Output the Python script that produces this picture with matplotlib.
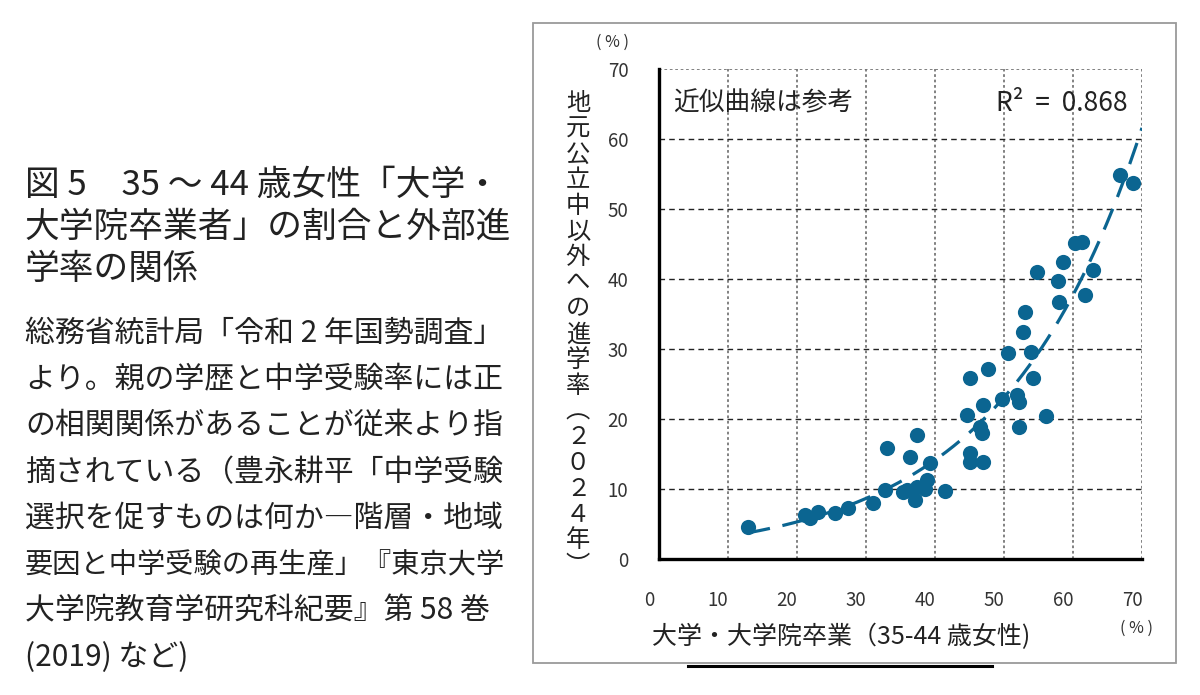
import numpy as np
import matplotlib
matplotlib.use("Agg")
import matplotlib.pyplot as plt
from matplotlib.patches import Rectangle
from matplotlib.lines import Line2D
from matplotlib.transforms import ScaledTranslation

plt.rcParams['font.family'] = ['Noto Sans CJK JP', 'DejaVu Sans']

# 35-44歳女性の大学・大学院卒業割合 (%)
univ_rate = [12.9, 21.2, 21.9, 23.0, 25.5, 27.4, 31.0, 32.8, 33.0, 36.4,
             37.4, 39.3, 38.8, 35.9, 37.4, 37.1, 35.4, 38.6, 41.4, 45.1,
             45.1, 47.0, 44.6, 46.5, 46.8, 47.0, 45.1, 47.7, 49.7, 51.9,
             52.2, 52.2, 56.1, 54.2, 50.6, 53.9, 52.8, 53.0, 54.8, 58.5,
             57.8, 58.0, 60.3, 61.3, 62.9, 61.7, 66.8, 68.7]
# 地元公立中以外への進学率 2024 (%)
exam_rate = [4.6, 6.3, 5.9, 6.7, 6.6, 7.3, 8.0, 9.9, 15.9, 14.6,
             17.7, 13.7, 11.3, 9.9, 10.3, 8.4, 9.6, 10.0, 9.7, 15.1,
             13.9, 13.9, 20.6, 18.9, 18.0, 22.0, 25.9, 27.1, 22.9, 23.4,
             22.4, 18.9, 20.4, 25.9, 29.4, 29.6, 32.4, 35.3, 41.0, 42.4,
             39.7, 36.7, 45.1, 45.3, 41.3, 37.7, 54.9, 53.7]

ticks = [0, 10, 20, 30, 40, 50, 60, 70]

title_lines = ["図 5　35 ～ 44 歳女性「大学・",
               "大学院卒業者」の割合と外部進",
               "学率の関係"]
body_lines = ["総務省統計局「令和 2 年国勢調査」",
              "より。親の学歴と中学受験率には正",
              "の相関関係があることが従来より指",
              "摘されている（豊永耕平「中学受験",
              "選択を促すものは何か―階層・地域",
              "要因と中学受験の再生産」『東京大学",
              "大学院教育学研究科紀要』第 58 巻",
              "(2019) など)"]
body_sizes = [21.5, 21.5, 21.5, 21.5, 21.5, 20.3, 21.5, 21.5]
ylabel_chars = list("地元公立中以外への進学率") + ["︵", "２", "０", "２", "４", "年", "︶"]

W, H = 1200, 695
fig = plt.figure(figsize=(W / 100, H / 100), dpi=100)
fig.patch.set_facecolor("white")

# left text block
for i, s in enumerate(title_lines):
    fig.text(25 / W, 1 - (185 + 42 * i) / H, s, fontsize=25, color="#222222", va="center", ha="left")
for i, s in enumerate(body_lines):
    fig.text(25 / W, 1 - (333 + 46.4 * i) / H, s, fontsize=body_sizes[i], color="#222222",
             va="center", ha="left")

# chart frame
fig.patches.append(Rectangle((533 / W, 1 - 663 / H), (1176 - 533) / W, (663 - 23) / H,
                             transform=fig.transFigure, fill=False, edgecolor="#9a9a9a", lw=1.3))
fig.lines.append(Line2D([688 / W, 992 / W], [1 - 666 / H, 1 - 666 / H],
                        transform=fig.transFigure, color="black", lw=2.2))

ax = fig.add_axes([659 / W, 1 - 559 / H, (1142 - 659) / W, (559 - 69) / H])
x = np.array(univ_rate)
y = np.array(exam_rate)

ax.set_xlim(0, 70)
ax.set_ylim(0, 70)
ax.set_xticks(ticks)
ax.set_yticks(ticks)
ax.tick_params(length=0, pad=22, labelsize=13.5, labelcolor="#333333")
for lab in ax.get_xticklabels():
    lab.set_transform(lab.get_transform() + ScaledTranslation(-0.1, 0, fig.dpi_scale_trans))

for t in ticks[1:]:
    ax.axvline(t, color="#777777", lw=1.3, ls=(0, (1.5, 1.5)), zorder=1)
for t in ticks[1:-1]:
    ax.axhline(t, color="#222222", lw=1.0, ls=(0, (4, 3)), zorder=1)
ax.axhline(70, color="#777777", lw=1.3, ls=(0, (1.5, 1.5)), zorder=1)

for side in ["top", "right"]:
    ax.spines[side].set_visible(False)
for side in ["left", "bottom"]:
    ax.spines[side].set_linewidth(2.4)
    ax.spines[side].set_color("black")

ax.scatter(x, y, s=120, color="#0b6591", zorder=3, linewidths=0)

# exponential trend line (Excel-style), fitted from the points
b, a = np.polyfit(x, np.log(y), 1)
xs = np.linspace(x.min(), 70, 200)
ax.plot(xs, np.exp(a + b * xs), color="#0b6591", lw=2.3, ls=(0, (7, 4)), zorder=4)

ax.text(0.03, 0.93, "近似曲線は参考", transform=ax.transAxes, fontsize=18.5,
        color="#222222", va="center", ha="left")
ax.text(0.97, 0.93, "R²  =  0.868", transform=ax.transAxes, fontsize=19,
        color="#222222", va="center", ha="right")

# axis labels
fig.text(612 / W, 1 - 42 / H, "( % )", fontsize=11.5, color="#333333", ha="center", va="center")
fig.text(1137 / W, 1 - 628 / H, "( % )", fontsize=11.5, color="#333333", ha="center", va="center")
fig.text(841 / W, 1 - 637 / H, "大学・大学院卒業（35-44 歳女性)", fontsize=18,
         color="#222222", ha="center", va="center")
for i, ch in enumerate(ylabel_chars):
    fig.text(578 / W, 1 - (103 + 25.7 * i) / H, ch, fontsize=17.5, color="#222222",
             ha="center", va="center")

fig.savefig("out.png", dpi=100)
